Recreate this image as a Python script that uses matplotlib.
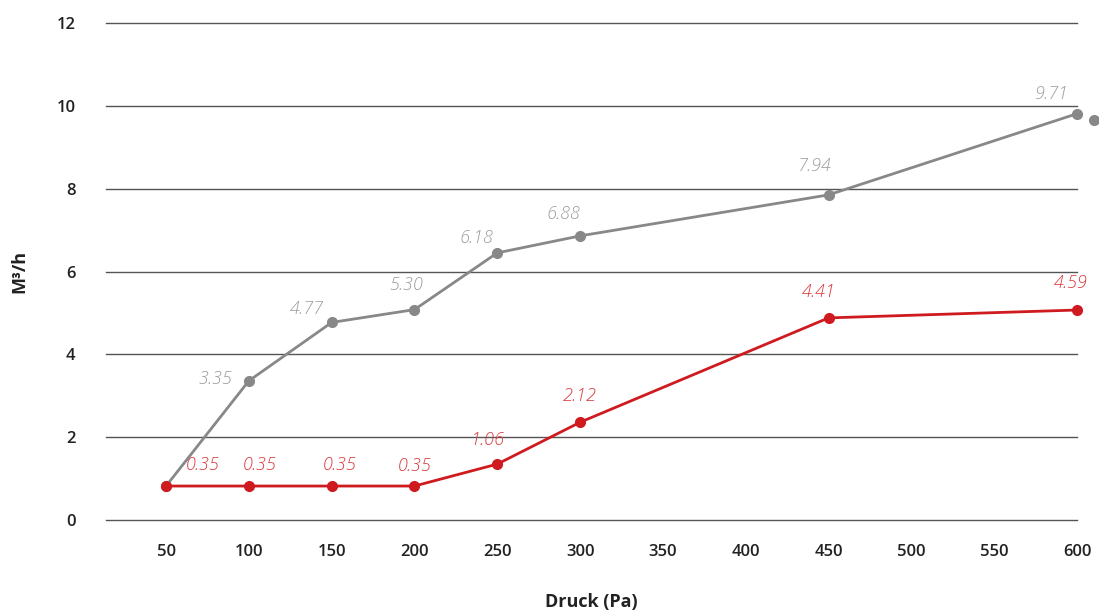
import matplotlib
matplotlib.use("Agg")
from matplotlib import pyplot as plt

# categories on the x axis (pressure, Pa)
druck = ["50", "100", "150", "200", "250", "300", "350", "400", "450", "500", "550", "600"]

# grey series: category index, plotted value, printed label
grau_idx = [0, 1, 2, 3, 4, 5, 8, 11]
grau_val = [0.82, 3.36, 4.77, 5.08, 6.45, 6.86, 7.85, 9.81]
grau_lbl = ["", "3.35", "4.77", "5.30", "6.18", "6.88", "7.94", "9.71"]

# stray grey point just past the last category
grau_extra_idx = [11.21]
grau_extra_val = [9.66]

# red series
rot_idx = [0, 1, 2, 3, 4, 5, 8, 11]
rot_val = [0.82, 0.82, 0.82, 0.82, 1.35, 2.36, 4.88, 5.07]
rot_lbl = ["0.35", "0.35", "0.35", "0.35", "1.06", "2.12", "4.41", "4.59"]

# label offsets in pixels (layout only)
grau_off = [(0, 0), (-33, 2), (-25, 13), (-8, 25), (-21, 15), (-17, 22), (-14, 29), (-25, 20)]
rot_off = [(37, 21), (11, 21), (8, 21), (0, 20), (-9, 24), (-1, 26), (-10, 26), (-6, 27)]

GRAU = "#888888"
GRAU_TXT = "#9c9c9c"
ROT = "#cf1b20"
ROT_TXT = "#d9383d"

plt.rcParams['font.family'] = ['Open Sans', 'DejaVu Sans']

fig = plt.figure(figsize=(10.99, 6.15), dpi=100)
ax = fig.add_axes([106 / 1099, 1 - 520 / 615, (1077 - 106) / 1099, (520 - 23) / 615])

ax.plot(grau_idx, grau_val, color=GRAU, lw=2, marker="o", ms=7, zorder=3, clip_on=False)
ax.plot(grau_extra_idx, grau_extra_val, color=GRAU, lw=0, marker="o", ms=7, zorder=3, clip_on=False)
ax.plot(rot_idx, rot_val, color=ROT, lw=2, marker="o", ms=7, zorder=4, clip_on=False)

px = 72 / 100
for i, v, t, o in zip(grau_idx, grau_val, grau_lbl, grau_off):
    if t:
        ax.annotate(t, (i, v), xytext=(o[0] * px, o[1] * px), textcoords="offset points",
                    ha="center", va="center", color=GRAU_TXT, fontsize=13,
                    fontstyle="italic", fontweight="light")
for i, v, t, o in zip(rot_idx, rot_val, rot_lbl, rot_off):
    ax.annotate(t, (i, v), xytext=(o[0] * px, o[1] * px), textcoords="offset points",
                ha="center", va="center", color=ROT_TXT, fontsize=13,
                fontstyle="italic", fontweight="light")

ax.set_xlim(-0.725, 11)
ax.set_ylim(0, 12)
ax.set_xticks(range(len(druck)))
ax.set_xticklabels(druck)
ax.set_yticks(range(0, 13, 2))

ax.grid(axis="y", color="#555555", lw=1)
for gl in ax.get_ygridlines():
    gl.set_clip_on(False)
ax.set_axisbelow(True)
for s in ax.spines.values():
    s.set_visible(False)

ax.tick_params(axis="y", length=0, pad=22, labelsize=12, labelcolor="#222222")
ax.tick_params(axis="x", length=0, pad=17, labelsize=12, labelcolor="#222222")
for lab in ax.get_xticklabels() + ax.get_yticklabels():
    lab.set_fontweight("semibold")

ax.set_xlabel("Druck (Pa)", fontsize=13, fontweight="bold", color="#222222", labelpad=24)
ax.set_ylabel("M³/h", fontsize=13, fontweight="bold", color="#222222", labelpad=20)

fig.savefig("out.png", dpi=100)
